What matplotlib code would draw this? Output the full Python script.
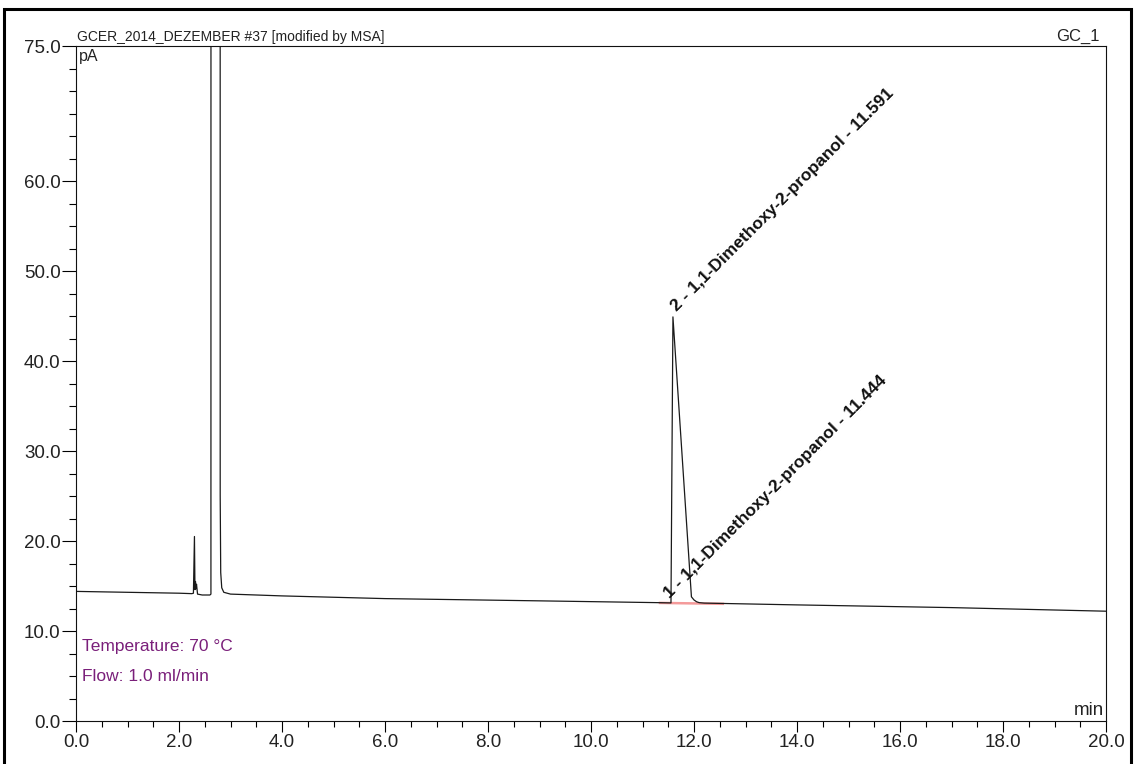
import matplotlib
matplotlib.use("Agg")
import matplotlib.pyplot as plt
from matplotlib.patches import Rectangle

plt.rcParams['font.family'] = ['Liberation Sans', 'DejaVu Sans']

# FID trace (retention time in min, signal in pA), read point by point
time_min = [0.0, 1.0, 2.0, 2.25, 2.28, 2.30, 2.31, 2.32, 2.33, 2.34, 2.36,
            2.45, 2.60, 2.62, 2.63, 2.79, 2.80, 2.81, 2.83, 2.87, 3.0,
            4.0, 6.0, 9.0, 11.3, 11.553, 11.591, 11.95, 12.0, 12.05,
            12.1, 12.2, 14.0, 17.0, 20.0]
signal_pA = [14.4, 14.3, 14.2, 14.15, 14.2, 20.5, 14.6, 15.5, 14.7, 15.2, 14.1,
             14.0, 14.0, 14.1, 900.0, 900.0, 25.0, 16.5, 14.8, 14.3, 14.1,
             13.9, 13.6, 13.35, 13.15, 13.12, 44.9, 13.8, 13.45, 13.25,
             13.15, 13.1, 12.9, 12.6, 12.2]

# integration baseline of the peak group
base_time = [11.34, 12.56]
base_pA = [13.12, 13.02]

# identified peaks
peak_no = [1, 2]
peak_name = ["1,1-Dimethoxy-2-propanol", "1,1-Dimethoxy-2-propanol"]
peak_rt = [11.444, 11.591]
peak_height = [13.3, 44.9]

y_ticks = [0, 10, 20, 30, 40, 50, 60, 75]

fig = plt.figure(figsize=(11.34, 7.64), dpi=100)
ax = fig.add_axes([76 / 1134, 1 - 721 / 764, 1030 / 1134, 675 / 764])

ax.plot(time_min, signal_pA, color="#1a1a1a", lw=0.9)
ax.plot(base_time, base_pA, color="#f49a9a", lw=1.8, zorder=1)

for n, name, rt, h in zip(peak_no, peak_name, peak_rt, peak_height):
    ax.text(rt + 0.12, h + 0.3 if n == 2 else h, f"{n} - {name} - {rt:.3f}",
            rotation=45, rotation_mode="anchor", ha="left", va="bottom",
            fontsize=12.5, fontweight="bold", color="#111111")

ax.set_xlim(0, 20)
ax.set_ylim(0, 75)
ax.set_xticks([i * 2.0 for i in range(11)])
ax.set_xticks([i * 0.5 for i in range(41)], minor=True)
ax.set_yticks(y_ticks)
ax.set_yticks([i * 2.5 for i in range(31)], minor=True)
ax.set_xticklabels([f"{v:.1f}" for v in ax.get_xticks()])
ax.set_yticklabels([f"{v:.1f}" for v in y_ticks])

ax.tick_params(axis="x", which="major", length=8, width=0.8, pad=1.5,
               labelsize=13.5, labelcolor="#222222")
ax.tick_params(axis="x", which="minor", length=4.3, width=0.8)
ax.tick_params(axis="y", which="major", length=10, width=0.8, pad=1,
               labelsize=13.5, labelcolor="#222222")
ax.tick_params(axis="y", which="minor", length=5, width=0.8)
for s in ax.spines.values():
    s.set_linewidth(0.8)
    s.set_color("#111111")

ax.text(0.003, 0.995, "pA", transform=ax.transAxes, ha="left", va="top",
        fontsize=11.5, color="#222222")
ax.text(0.998, 0.003, "min", transform=ax.transAxes, ha="right", va="bottom",
        fontsize=13.5, color="#222222")
ax.text(0.001, 1.003, "GCER_2014_DEZEMBER #37 [modified by MSA]",
        transform=ax.transAxes, ha="left", va="bottom", fontsize=10,
        color="#222222")
ax.text(0.994, 1.003, "GC_1", transform=ax.transAxes, ha="right",
        va="bottom", fontsize=12, color="#222222")

ax.text(0.006, 0.104, "Temperature: 70 °C", transform=ax.transAxes,
        ha="left", va="baseline", fontsize=12.5, color="#7a1f7a")
ax.text(0.006, 0.059, "Flow: 1.0 ml/min", transform=ax.transAxes,
        ha="left", va="baseline", fontsize=12.5, color="#7a1f7a")

# outer frame of the report page
fig.patches.append(Rectangle((4 / 1134, -0.02), 1127 / 1134, 1.02 - 9 / 764,
                             transform=fig.transFigure, fill=False,
                             lw=2.2, edgecolor="black"))

fig.savefig("out.png", dpi=100)
